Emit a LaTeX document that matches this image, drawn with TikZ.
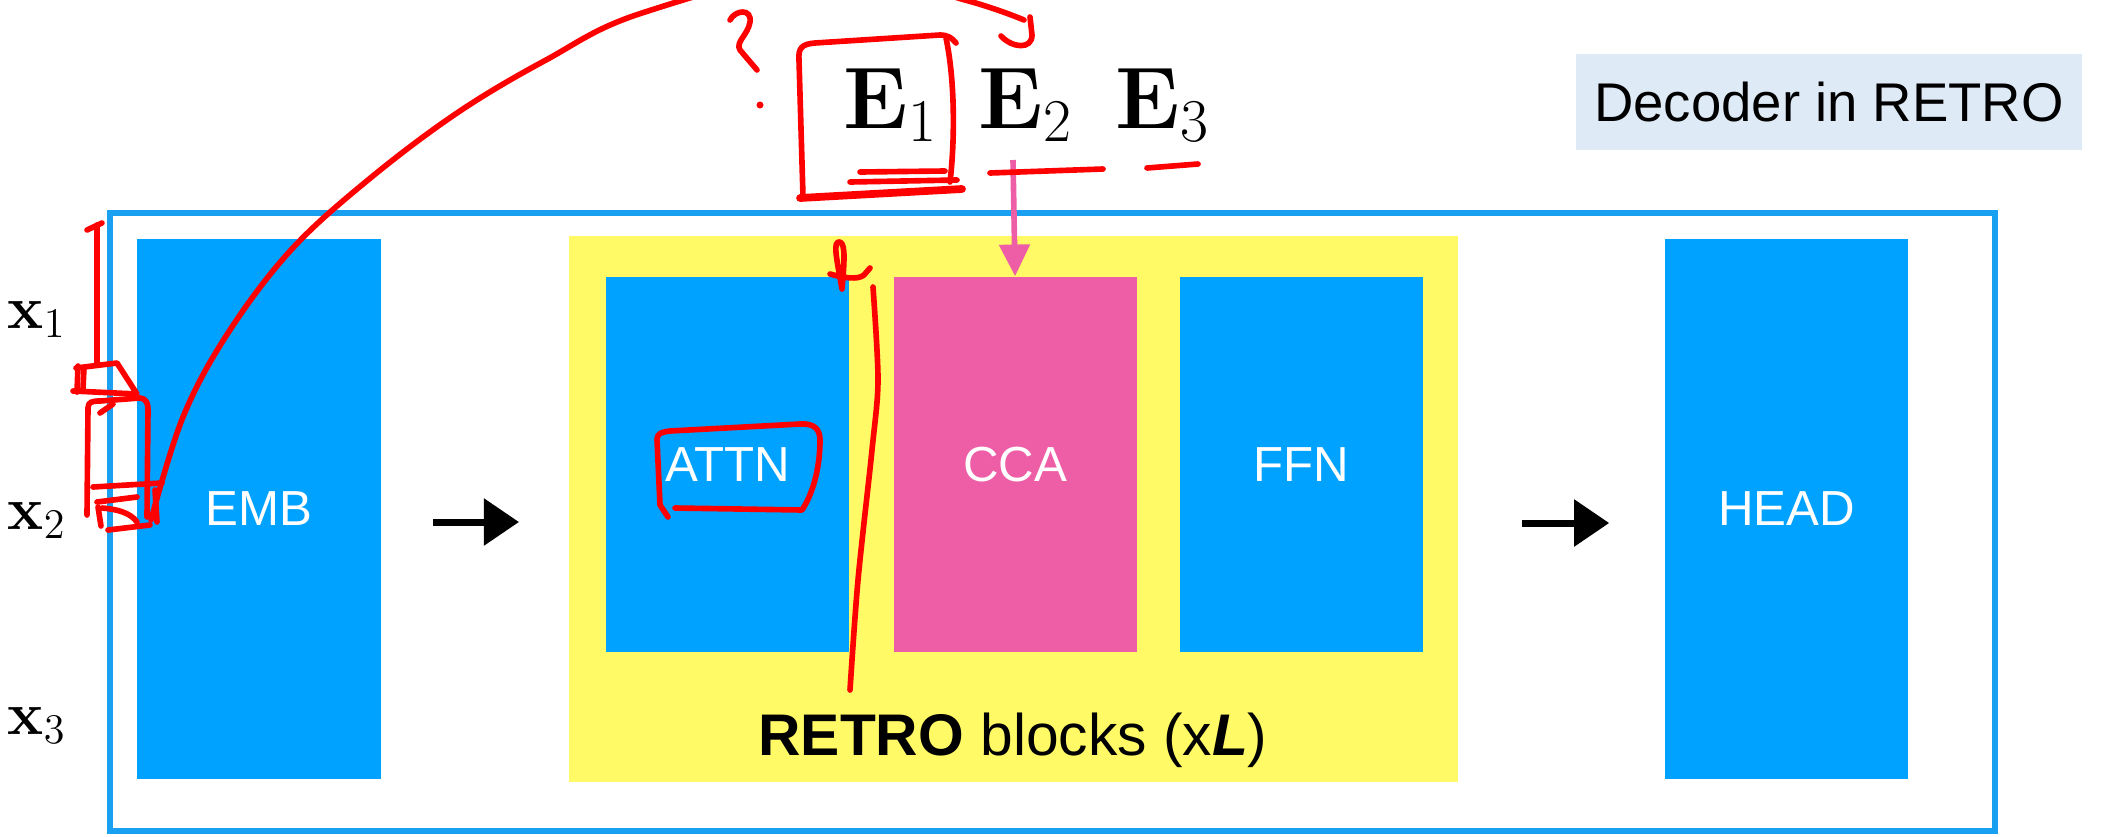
\documentclass[tikz,border=0pt]{standalone}
\usepackage[no-math]{fontspec}
\setmainfont{Liberation Sans}
\usetikzlibrary{arrows.meta,positioning}

\definecolor{blkblue}{RGB}{0,162,255}
\definecolor{ccapink}{RGB}{238,94,166}
\definecolor{retroyel}{RGB}{255,250,102}
\definecolor{lgdblue}{RGB}{222,234,246}
\definecolor{frameblue}{RGB}{25,160,240}

\tikzset{
  blk/.style={fill=blkblue, text=white, inner sep=0pt, minimum width=2.43cm,
    font=\fontsize{14}{16}\selectfont},
  ink/.style={draw=red, line width=1.6pt, line cap=round, line join=round},
  flow/.style={line width=2pt, -{Triangle[length=10pt,width=13pt]}},
  eqlbl/.style={anchor=base west, inner sep=0pt},
}

\begin{document}
\begin{tikzpicture}[x=0.01cm, y=-0.01cm]
  \useasboundingbox (0,0) rectangle (2103,836);
  \node[fill=lgdblue, minimum width=5.06cm, minimum height=0.96cm, inner sep=0pt,
    font=\fontsize{15.5}{18}\selectfont] (lgd) at (1829,102) {Decoder in RETRO};
  \draw[frameblue, line width=1.5pt] (110,213) rectangle (1995,831);
  \node[fill=retroyel, minimum width=8.89cm, minimum height=5.46cm, inner sep=0pt] (retro) at (1013.5,509) {};
  \node[blk, minimum height=5.40cm] (emb) at (259,509) {EMB};
  \node[blk, minimum height=5.40cm] (head) at (1786.5,509) {HEAD};
  \node[blk, minimum height=3.75cm] (attn) at (727.5,464.5) {ATTN};
  \node[blk, fill=ccapink, minimum height=3.75cm, right=0.43cm of attn] (cca) {CCA};
  \node[blk, minimum height=3.75cm, right=0.42cm of cca] (ffn) {FFN};
  \node[anchor=base, inner sep=0pt, font=\fontsize{16.7}{20}\selectfont] (rlbl) at (1013,755)
    {\textbf{RETRO} blocks (x\textbf{\textit{L}})};
  % chunk embeddings above, tokens on the left
  \node[eqlbl, font=\fontsize{25}{30}\selectfont] (e1) at (843,128) {$\mathbf{E}_1$};
  \node[eqlbl, font=\fontsize{25}{30}\selectfont] (e2) at (978,128) {$\mathbf{E}_2$};
  \node[eqlbl, font=\fontsize{25}{30}\selectfont] (e3) at (1115,128) {$\mathbf{E}_3$};
  \node[eqlbl, font=\fontsize{18}{22}\selectfont] (x1) at (7,328) {$\mathbf{x}_1$};
  \node[eqlbl, font=\fontsize{18}{22}\selectfont] (x2) at (7,529) {$\mathbf{x}_2$};
  \node[eqlbl, font=\fontsize{18}{22}\selectfont] (x3) at (7,734) {$\mathbf{x}_3$};

  \draw[flow, shorten <=0.52cm, shorten >=0.49cm] ([yshift=-0.13cm]emb.east) -- ([yshift=-0.13cm]retro.west);
  \draw[flow, shorten <=0.63cm, shorten >=0.55cm] ([yshift=-0.14cm]retro.east) -- ([yshift=-0.14cm]head.west);
  \coordinate (etap) at (1013,160);
  \draw[ccapink, line width=1.6pt, -{Triangle[length=9pt,width=8.5pt]}] (etap) -- (cca.north);

  % red pen marks
  \draw[ink] plot[smooth, tension=0.6] coordinates {(151,520) (183,417) (228,333) (291,250) (368,180)
    (457,113) (546,60) (642,13) (830,-32) (965,0) (1024,20)};
  \draw[ink] (1001,36) .. controls (1012,48) and (1032,50) .. (1032,35) -- (1030,17);
  \draw[ink] (730,20) .. controls (735,10) and (752,8) .. (750,22) .. controls (748,35) and (735,42) .. (740,50) -- (757,70);
  \fill[red] (760,105) circle (3.5);
  \draw[ink] (803,197) -- (799,60) .. controls (798,48) and (802,44) .. (815,43) -- (940,35)
    .. controls (948,35) and (952,38) .. (956,43);
  \draw[ink] (946,38) .. controls (955,80) and (955,140) .. (950,182);
  \draw[ink] (860,172) -- (945,171);
  \draw[ink] (850,182) -- (957,180);
  \draw[ink, line width=2.2pt] (800,198) -- (962,189);
  \draw[ink] (990,173) -- (1103,169);
  \draw[ink] (1147,168) -- (1198,164);
  \draw[ink] (87,230) -- (102,223);
  \draw[ink] (97,225) -- (97,364);
  \draw[ink] (76,368) -- (117,363) -- (137,394) -- (73,391);
  \draw[ink] (78,366) -- (77,392);
  \draw[ink] (84,368) -- (83,389);
  \draw[ink] (87,515) -- (88,408) .. controls (88,402) and (92,401) .. (100,401) -- (140,398)
    .. controls (147,399) and (148,404) .. (148,410) -- (147,517);
  \draw[ink] (100,413) -- (113,404);
  \draw[ink] (93,487) -- (162,483);
  \draw[ink] (97,502) -- (137,497);
  \draw[ink] (102,508) .. controls (115,509) and (130,512) .. (137,522);
  \draw[ink] (98,507) -- (101,526);
  \draw[ink] (108,530) -- (150,525);
  \draw[ink] (155,490) -- (157,522);
  \draw[ink] (668,517) -- (660,505) -- (657,440) .. controls (657,433) and (662,432) .. (670,431) -- (800,424)
    .. controls (815,423) and (820,430) .. (820,440) .. controls (820,470) and (812,495) .. (802,510) -- (675,508);
  \draw[ink] (842,289) .. controls (837,260) and (832,240) .. (840,242) .. controls (846,244) and (844,265) .. (842,289);
  \draw[ink] (830,274) .. controls (844,278) and (858,280) .. (864,275) -- (870,268);
  \draw[ink] plot[smooth] coordinates {(873,287) (878,380) (872,450) (858,580) (850,690)};
\end{tikzpicture}
\end{document}
